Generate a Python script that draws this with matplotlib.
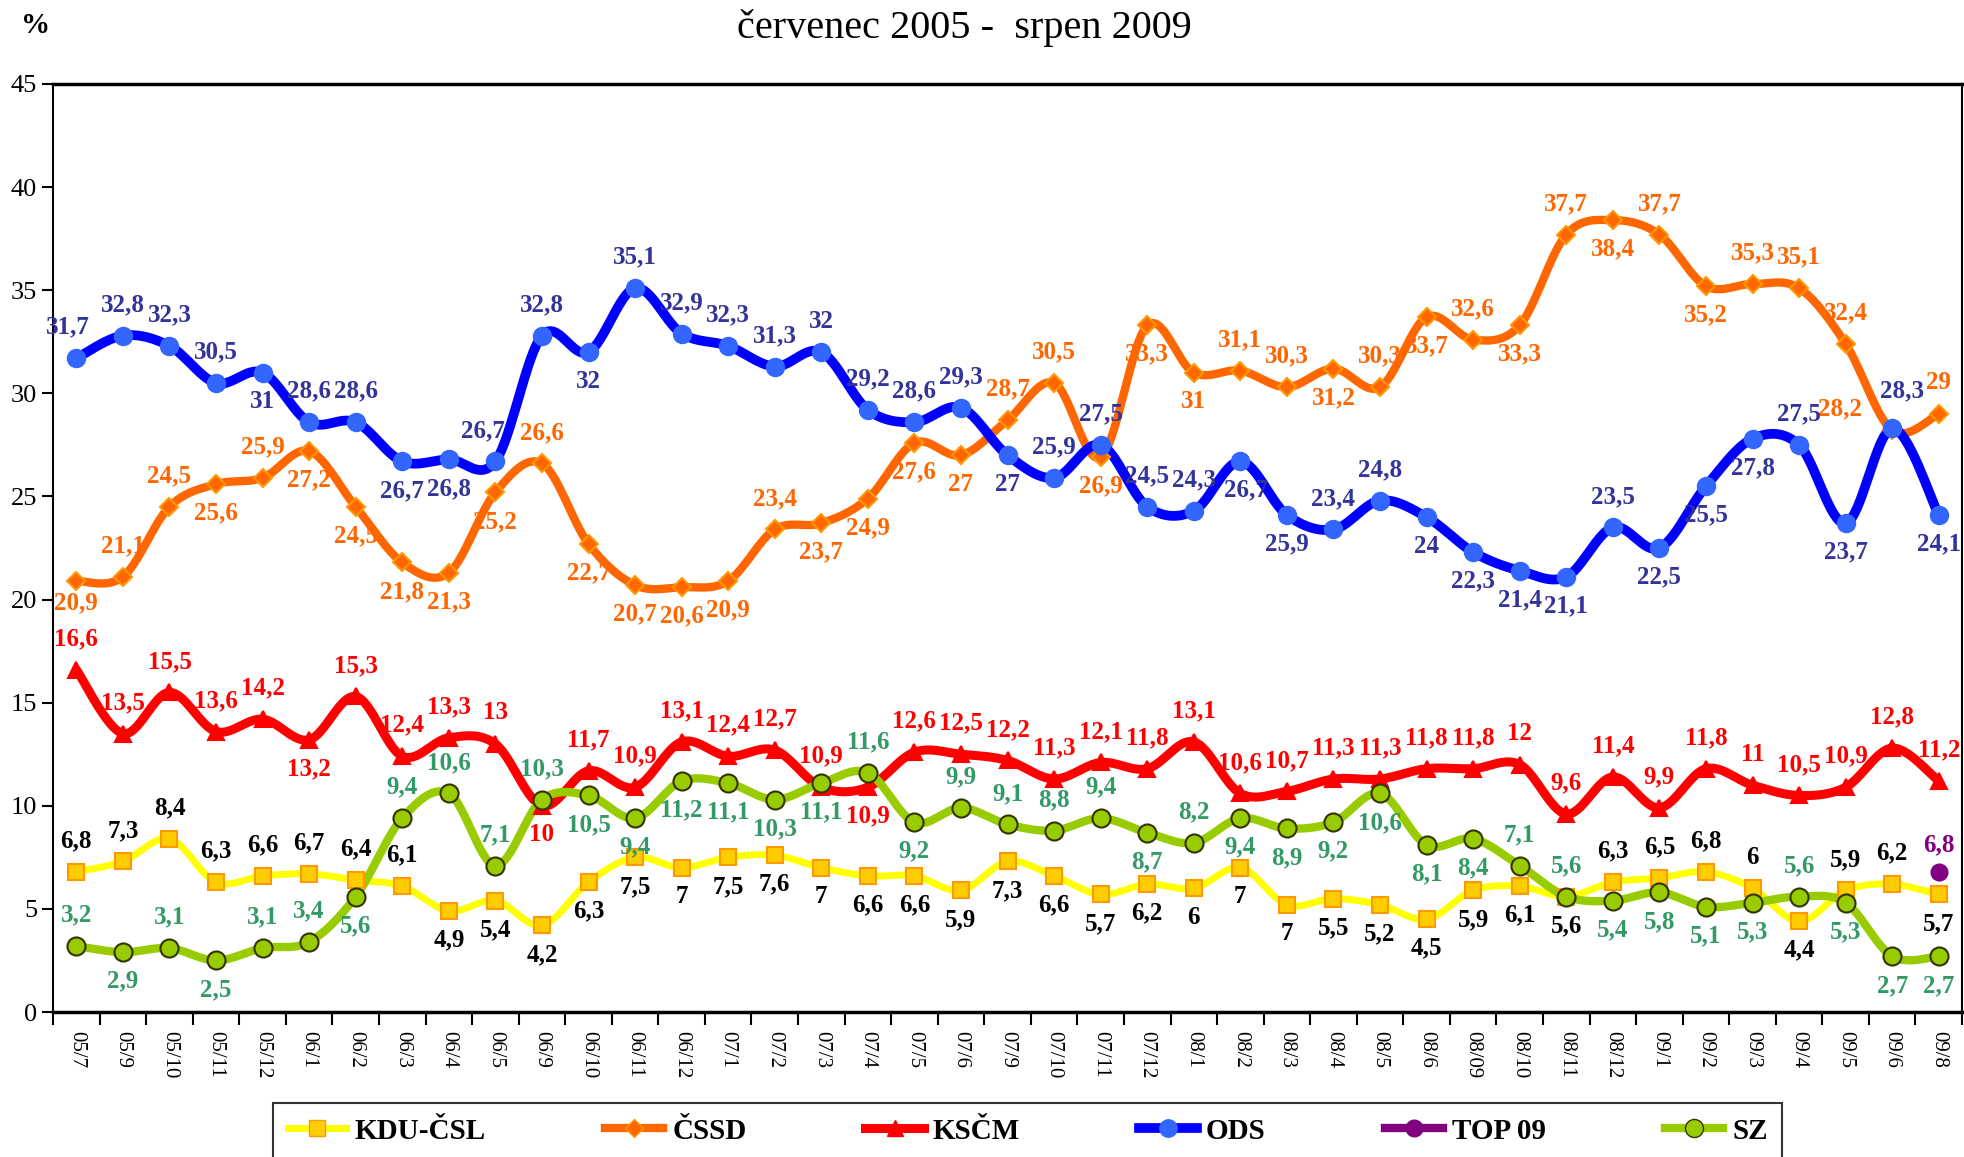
import numpy as np
import matplotlib
matplotlib.use('Agg')
import matplotlib.pyplot as plt
from matplotlib.lines import Line2D

# ---------- Data ----------

months = ['05/7', '05/9', '05/10', '05/11', '05/12', '06/1', '06/2', '06/3', '06/4', '06/5',
          '06/9', '06/10', '06/11', '06/12', '07/1', '07/2', '07/3', '07/4', '07/5', '07/6',
          '07/9', '07/10', '07/11', '07/12', '08/1', '08/2', '08/3', '08/4', '08/5', '08/6',
          '08/09', '08/10', '08/11', '08/12', '09/1', '09/2', '09/3', '09/4', '09/5', '09/6', '09/8']

kdu = [6.8, 7.3, 8.4, 6.3, 6.6, 6.7, 6.4, 6.1, 4.9, 5.4,
       4.2, 6.3, 7.5, 7, 7.5, 7.6, 7, 6.6, 6.6, 5.9,
       7.3, 6.6, 5.7, 6.2, 6, 7, 5.2, 5.5, 5.2, 4.5,
       5.9, 6.1, 5.6, 6.3, 6.5, 6.8, 6, 4.4, 5.9, 6.2, 5.7]

cssd = [20.9, 21.1, 24.5, 25.6, 25.9, 27.2, 24.5, 21.8, 21.3, 25.2,
        26.6, 22.7, 20.7, 20.6, 20.9, 23.4, 23.7, 24.9, 27.6, 27,
        28.7, 30.5, 26.9, 33.3, 31, 31.1, 30.3, 31.2, 30.3, 33.7,
        32.6, 33.3, 37.7, 38.4, 37.7, 35.2, 35.3, 35.1, 32.4, 28.2, 29]

kscm = [16.6, 13.5, 15.5, 13.6, 14.2, 13.2, 15.3, 12.4, 13.3, 13,
        10, 11.7, 10.9, 13.1, 12.4, 12.7, 10.9, 10.9, 12.6, 12.5,
        12.2, 11.3, 12.1, 11.8, 13.1, 10.6, 10.7, 11.3, 11.3, 11.8,
        11.8, 12, 9.6, 11.4, 9.9, 11.8, 11, 10.5, 10.9, 12.8, 11.2]

ods = [31.7, 32.8, 32.3, 30.5, 31, 28.6, 28.6, 26.7, 26.8, 26.7,
       32.8, 32, 35.1, 32.9, 32.3, 31.3, 32, 29.2, 28.6, 29.3,
       27, 25.9, 27.5, 24.5, 24.3, 26.7, 24.1, 23.4, 24.8, 24,
       22.3, 21.4, 21.1, 23.5, 22.5, 25.5, 27.8, 27.5, 23.7, 28.3, 24.1]

top09_month = ['09/8']
top09 = [6.8]

sz = [3.2, 2.9, 3.1, 2.5, 3.1, 3.4, 5.6, 9.4, 10.6, 7.1,
      10.3, 10.5, 9.4, 11.2, 11.1, 10.3, 11.1, 11.6, 9.2, 9.9,
      9.1, 8.8, 9.4, 8.7, 8.2, 9.4, 8.9, 9.2, 10.6, 8.1,
      8.4, 7.1, 5.6, 5.4, 5.8, 5.1, 5.3, 5.6, 5.3, 2.7, 2.7]

# labels typed differently from the plotted point in the original
label_override = {('ODS', 26): '25,9', ('KDU-ČSL', 26): '7'}

# label above (a) / below (b) the point
pos_kdu = 'aaaaaaaabb' 'bbbbbbbbbb' 'bbbbbbbbbb' 'bbbaaaabaab'
pos_cssd = 'baababbbbb' 'abbbbabbbb' 'aabbbaabab' 'abababaaaaa'
pos_kscm = 'aaaaabaaaa' 'baaaaaabaa' 'aaaaaaaaaa' 'aaaaaaaaaaa'
pos_ods = 'aaaabaabba' 'abaaaaaaaa' 'baaaabbaab' 'bbbabbbabab'
pos_sz = 'ababaabaaa' 'abbbbbbaba' 'aaababbbbb' 'baabbbbabbb'

# a few labels moved by hand (pixels dx, dy)
label_move = {('ČSSD', 39): (-52, 22), ('ODS', 39): (10, 38), ('ČSSD', 0): (0, -22),
              ('ODS', 0): (-8, 31), ('ODS', 9): (-12, 31), ('ODS', 25): (6, -28)}

# ---------- Plot ----------

plt.rcParams['font.family'] = ['Liberation Serif', 'DejaVu Serif']


def smooth(x, y, n=16):
    pts = np.column_stack([x, y]).astype(float)
    p = np.vstack([pts[0], pts, pts[-1]])
    out = []
    t = np.linspace(0, 1, n, endpoint=False)[:, None]
    for i in range(1, len(p) - 2):
        p0, p1, p2, p3 = p[i - 1], p[i], p[i + 1], p[i + 2]
        seg = 0.5 * (2 * p1 + (-p0 + p2) * t + (2 * p0 - 5 * p1 + 4 * p2 - p3) * t ** 2
                     + (-p0 + 3 * p1 - 3 * p2 + p3) * t ** 3)
        out.append(seg)
    out.append(pts[-1:])
    s = np.vstack(out)
    return s[:, 0], s[:, 1]


fig = plt.figure(figsize=(19.65, 11.57), dpi=100)
ax = fig.add_axes([0.027, 0.1253, 0.9715, 0.8021])

x = np.arange(len(months))

series = [
    ('KDU-ČSL', kdu, pos_kdu, '#FFFF00', 5, 's', '#FFCC00', '#FF9900', 12, 'black'),
    ('ČSSD', cssd, pos_cssd, '#FF6600', 6, 'D', '#FF6600', '#FF9900', 9, '#FF6600'),
    ('KSČM', kscm, pos_kscm, '#FF0000', 6.5, '^', '#FF0000', '#FF0000', 11, '#FF0000'),
    ('ODS', ods, pos_ods, '#0000FF', 7, 'o', '#3366FF', '#3366FF', 12.5, '#333399'),
    ('SZ', sz, pos_sz, '#99CC00', 6, 'o', '#99CC00', '#333300', 13, '#339966'),
]

handles = []
for name, vals, pos, lc, lw, mk, mfc, mec, ms, tc in series:
    sx, sy = smooth(x, vals)
    ax.plot(sx, sy, color=lc, lw=lw, solid_capstyle='round', zorder=3)
    ax.plot(x, vals, ls='none', marker=mk, ms=ms, mfc=mfc, mec=mec, mew=1.5, zorder=4)
    for i, v in enumerate(vals):
        txt = label_override.get((name, i), f'{v:g}'.replace('.', ','))
        off = (0, 31) if pos[i] == 'a' else (0, -29)
        off = label_move.get((name, i), off)
        ax.annotate(txt, (x[i], v), xytext=off, textcoords='offset pixels',
                    ha='center', va='center', fontsize=18, fontweight='bold',
                    color=tc, zorder=6)
    handles.append(Line2D([], [], color=lc, lw=lw, marker=mk, ms=ms, mfc=mfc, mec=mec))

# TOP 09 - single point
xt = [months.index(m) for m in top09_month]
ax.plot(xt, top09, ls='none', marker='o', ms=12, color='#800080', zorder=5)
for xi, v in zip(xt, top09):
    ax.annotate(f'{v:g}'.replace('.', ','), (xi, v), xytext=(0, 27), textcoords='offset pixels',
                ha='center', va='center', fontsize=18, fontweight='bold', color='#800080')
handles.insert(4, Line2D([], [], color='#800080', lw=6, marker='o', ms=12))

ax.set_xlim(-0.5, len(months) - 0.5)
ax.set_ylim(0, 45)
ax.set_yticks(np.arange(0, 46, 5))
ax.tick_params(axis='y', labelsize=19, length=8, width=1.5, direction='out')
ax.set_xticks(x)
ax.set_xticklabels(months, rotation=270, fontsize=15)
ax.tick_params(axis='x', which='major', length=0, pad=14)
ax.set_xticks(np.arange(-0.5, len(months), 1), minor=True)
ax.tick_params(axis='x', which='minor', length=9, width=1.5, direction='out')

for side in ['top', 'bottom']:
    ax.spines[side].set_linewidth(2.5)
for side in ['left', 'right']:
    ax.spines[side].set_linewidth(1.5)

fig.text(0.491, 0.976, 'červenec 2005 -  srpen 2009', ha='center', va='center', fontsize=29)
fig.text(0.018, 0.978, '%', ha='center', va='center', fontsize=21, fontweight='bold')

leg = fig.legend(handles, ['KDU-ČSL', 'ČSSD', 'KSČM', 'ODS', 'TOP 09', 'SZ'],
                 loc='upper left', bbox_to_anchor=(0.139, 0.0467, 0.768, 0), mode='expand',
                 borderaxespad=0, ncol=6, frameon=True, fancybox=False, edgecolor='black',
                 prop={'weight': 'bold', 'size': 21}, handlelength=2.0, handletextpad=0.3,
                 borderpad=0.5)
leg.get_frame().set_linewidth(1.5)

fig.savefig('out.png', dpi=100)
